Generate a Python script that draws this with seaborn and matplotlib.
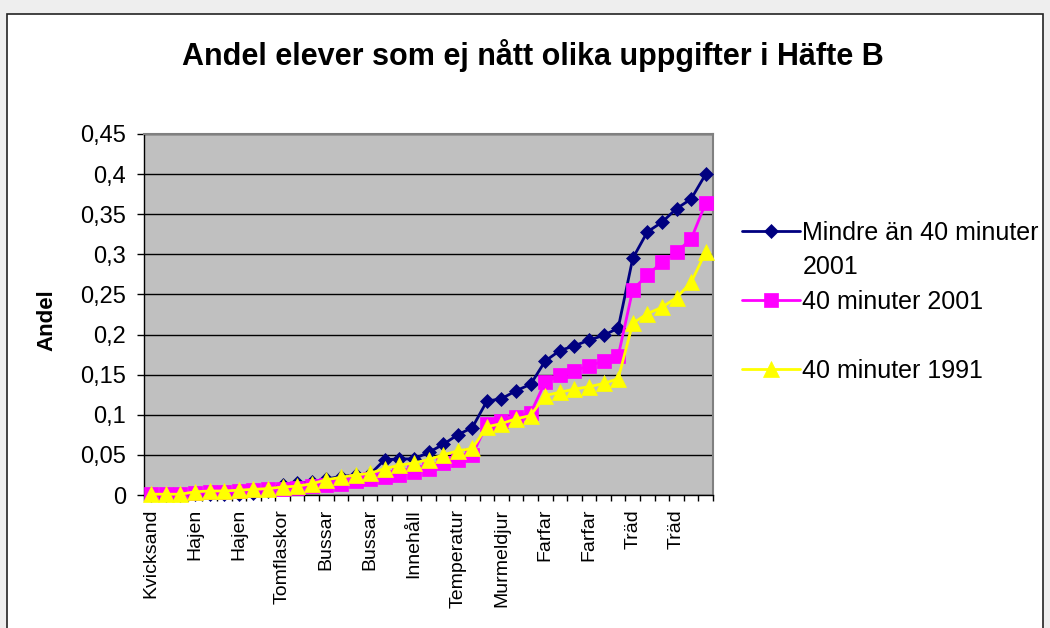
import numpy as np
import pandas as pd
import matplotlib
matplotlib.use("Agg")
import matplotlib.pyplot as plt
import seaborn as sns
from matplotlib.patches import Rectangle
from matplotlib.ticker import FixedLocator, FuncFormatter, NullFormatter

# uppgifter i Häfte B (var tredje har etikett på axeln)
items = list(range(39))
tick_labels = ["Kvicksand", "Hajen", "Hajen", "Tomflaskor", "Bussar", "Bussar",
               "Innehåll", "Temperatur", "Murmeldjur", "Farfar", "Farfar", "Träd", "Träd"]

under_40_2001 = [0.000, 0.000, 0.000, 0.001, 0.001, 0.001, 0.001, 0.002, 0.005, 0.013,
                 0.015, 0.016, 0.020, 0.023, 0.025, 0.026, 0.044, 0.045, 0.045, 0.053,
                 0.063, 0.075, 0.084, 0.117, 0.120, 0.130, 0.138, 0.167, 0.180, 0.186,
                 0.193, 0.199, 0.208, 0.295, 0.328, 0.340, 0.357, 0.369, 0.400]
min40_2001 = [0.001, 0.001, 0.001, 0.003, 0.004, 0.004, 0.005, 0.006, 0.007, 0.008,
              0.009, 0.011, 0.012, 0.014, 0.017, 0.020, 0.023, 0.025, 0.029, 0.033,
              0.040, 0.044, 0.050, 0.088, 0.092, 0.097, 0.102, 0.141, 0.149, 0.155,
              0.161, 0.167, 0.173, 0.256, 0.274, 0.290, 0.303, 0.319, 0.364]
min40_1991 = [0.001, 0.001, 0.001, 0.004, 0.005, 0.005, 0.006, 0.007, 0.008, 0.010,
              0.011, 0.014, 0.019, 0.022, 0.025, 0.027, 0.033, 0.037, 0.040, 0.044,
              0.050, 0.055, 0.058, 0.085, 0.089, 0.095, 0.099, 0.124, 0.128, 0.132,
              0.135, 0.139, 0.145, 0.214, 0.226, 0.234, 0.246, 0.265, 0.303]

series_names = ["Mindre än 40 minuter\n2001", "40 minuter 2001", "40 minuter 1991"]
series_values = [under_40_2001, min40_2001, min40_1991]
colors = ["#000080", "#ff00ff", "#ffff00"]
markers = ["D", "s", "^"]
marker_sizes = [7, 10.5, 11]

df = pd.concat([pd.DataFrame({"item": items, "andel": vals, "serie": name})
                for name, vals in zip(series_names, series_values)], ignore_index=True)

sns.set_theme(style="white")
plt.rcParams["font.family"] = ["Liberation Sans", "DejaVu Sans"]
plt.rcParams["text.color"] = "black"
plt.rcParams["xtick.color"] = "black"
plt.rcParams["ytick.color"] = "black"

fig = plt.figure(figsize=(10.5, 6.28), dpi=100, facecolor="#eeeeee")
fig.patches.append(Rectangle((7 / 1050, -0.05), 1036 / 1050, 1.05 - 14 / 628,
                             transform=fig.transFigure, facecolor="white",
                             edgecolor="#222222", linewidth=1.2, zorder=-10))

ax = fig.add_axes([144 / 1050, 133 / 628, 569 / 1050, 361 / 628])
ax.set_facecolor("#c0c0c0")

for name, color, mk, ms in zip(series_names, colors, markers, marker_sizes):
    sns.lineplot(data=df[df["serie"] == name], x="item", y="andel", ax=ax,
                 color=color, marker=mk, markersize=ms, markeredgecolor=color,
                 markeredgewidth=0.5, linewidth=2, errorbar=None, label=name,
                 clip_on=False, zorder=3)

ax.set_xlim(-0.5, 38.5)
ax.set_ylim(0, 0.45)
ax.set_yticks(np.arange(0, 0.451, 0.05))
ax.yaxis.set_major_formatter(FuncFormatter(lambda v, p: f"{v:.2f}".rstrip("0").rstrip(".").replace(".", ",") if v else "0"))
ax.grid(axis="y", color="black", linewidth=1)
ax.set_axisbelow(True)

ax.xaxis.set_major_locator(FixedLocator(items[::3]))
ax.set_xticklabels(tick_labels, rotation=90, va="top", ha="center")
ax.xaxis.set_minor_locator(FixedLocator(np.arange(-0.5, 39, 1)))
ax.xaxis.set_minor_formatter(NullFormatter())
ax.tick_params(axis="x", which="major", length=0, pad=10, labelsize=14)
ax.tick_params(axis="x", which="minor", length=4, width=1, direction="out", bottom=True)
ax.tick_params(axis="y", length=5, width=1, direction="out", left=True, pad=8, labelsize=17)
ax.set_xlabel("")
ax.set_ylabel("")

for side in ["left", "bottom"]:
    ax.spines[side].set_color("black")
    ax.spines[side].set_linewidth(1)
for side in ["top", "right"]:
    ax.spines[side].set_color("#808080")
    ax.spines[side].set_linewidth(1.5)

handles, _ = ax.get_legend_handles_labels()
legend_labels = [series_names[0], series_names[1] + "\n ", series_names[2] + "\n "]
leg = ax.legend(handles, legend_labels, loc="upper left",
                bbox_to_anchor=(742 / 1050, 1 - 221 / 628), bbox_transform=fig.transFigure,
                frameon=False, fontsize=18, handlelength=2.3, handletextpad=0.12,
                labelspacing=0.46, borderpad=0, borderaxespad=0)
for t in leg.get_texts():
    t.set_linespacing(1.5)
for line in leg.get_lines():
    line.set_ydata(np.asarray(line.get_ydata()) + 14)

fig.text(533 / 1050, 1 - 56 / 628, "Andel elever som ej nått olika uppgifter i Häfte B",
         ha="center", va="center", fontsize=22, fontweight="bold")
fig.text(47 / 1050, 1 - 320 / 628, "Andel", ha="center", va="center", rotation=90,
         fontsize=16, fontweight="bold")

fig.savefig("out.png", dpi=100, facecolor=fig.get_facecolor())
